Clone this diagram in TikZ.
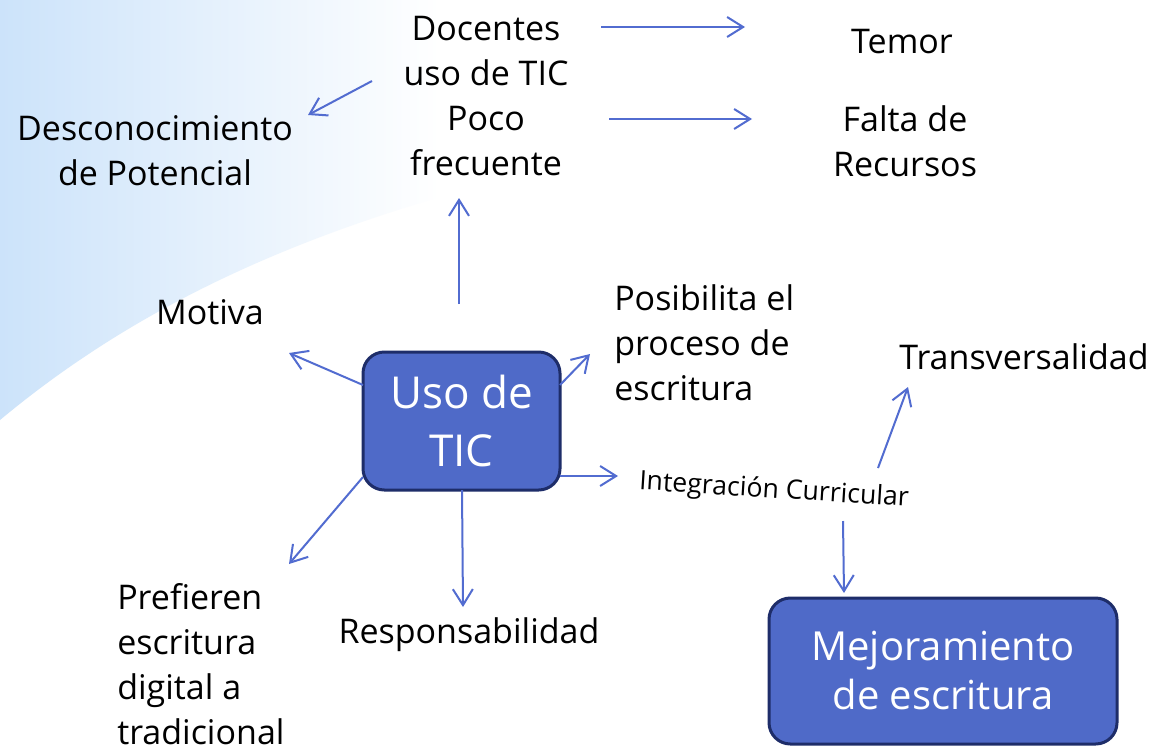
\documentclass[tikz,border=0pt]{standalone}
\usepackage{fontspec}
\setmainfont{Open Sans}
\usetikzlibrary{arrows.meta,calc}
\definecolor{arrowblue}{RGB}{82,108,208}
\definecolor{boxfill}{RGB}{79,106,200}
\definecolor{boxline}{RGB}{30,45,105}
\definecolor{bgblue}{RGB}{204,227,250}
\begin{document}
\begin{tikzpicture}[x=0.75pt,y=-0.75pt,
  lbl/.style={font=\fontsize{25.5pt}{33.75pt}\selectfont, align=center, inner sep=0pt},
  tbox/.style={draw=boxline, line width=2.25pt, fill=boxfill, rounded corners=16pt,
    text=white, align=center, inner sep=0pt},
  arr/.style={draw=arrowblue, line width=1.5pt, -{Straight Barb[length=12pt,width=15pt]}}]
\path[use as bounding box, fill=white] (0,0) rectangle (1156,746);
\begin{scope}
  \clip (0,0) -- (440,0) -- (440,197)
    .. controls (260,250) and (120,320) .. (0,420) -- cycle;
  \shade[left color=bgblue, right color=white] (0,0) rectangle (440,430);
\end{scope}

\node[lbl] (doc) at (486,96) {Docentes\\uso de TIC\\Poco\\frecuente};
\node[lbl] (temor) at (902,42) {Temor};
\node[lbl] (falta) at (905,141) {Falta de\\Recursos};
\node[lbl] (desc) at (155,151) {Desconocimiento\\de Potencial};
\node[lbl] (motiva) at (210,312) {Motiva};
\node[lbl, align=left, anchor=west] (posib) at (614,343) {Posibilita el\\proceso de\\escritura};
\node[lbl] (transv) at (1024,357) {Transversalidad};
\node[lbl, font=\fontsize{20pt}{24pt}\selectfont, rotate=-3.6] (integ) at (774,491) {Integración Curricular};
\node[lbl, align=left, anchor=west] (pref) at (117,664) {Prefieren\\escritura\\digital a\\tradicional};
\node[lbl] (resp) at (469,635) {Responsabilidad};
\node[tbox, minimum width=147.75pt, minimum height=103.5pt,
  font=\fontsize{33pt}{43.5pt}\selectfont] (uso) at (461.5,421) {Uso de\\TIC};
\node[tbox, minimum width=261pt, minimum height=109.5pt,
  font=\fontsize{30pt}{36.75pt}\selectfont] (mejora) at (943,671) {Mejoramiento\\de escritura};

\draw[arr] ($(doc)+(115,-69)$) -- ($(temor)+(-157,-15)$);
\draw[arr] ($(doc)+(123,23)$) -- ($(falta)+(-153,-22)$);
\draw[arr] ($(doc)+(-114,-15)$) -- ($(desc)+(153,-36)$);
\draw[arr] ($(uso)+(-2.5,-117)$) -- ($(doc)+(-27,102)$);
\draw[arr] ($(uso)+(-98.5,-36)$) -- ($(motiva)+(79,41)$);
\draw[arr] ($(uso)+(98.5,-36)$) -- ($(posib.west)+(-24,11)$);
\draw[arr] ($(uso)+(98.5,55)$) -- ($(integ)+(-156,-15)$);
\draw[arr] ($(integ)+(104,-23)$) -- ($(transv)+(-116,30)$);
\draw[arr] ($(integ)+(69,30)$) -- ($(mejora)+(-99,-78)$);
\draw[arr] ($(uso)+(-98.5,56)$) -- ($(pref.west)+(172,-100)$);
\draw[arr] ($(uso)+(0.5,69)$) -- ($(resp)+(-6,-28)$);
\end{tikzpicture}
\end{document}
